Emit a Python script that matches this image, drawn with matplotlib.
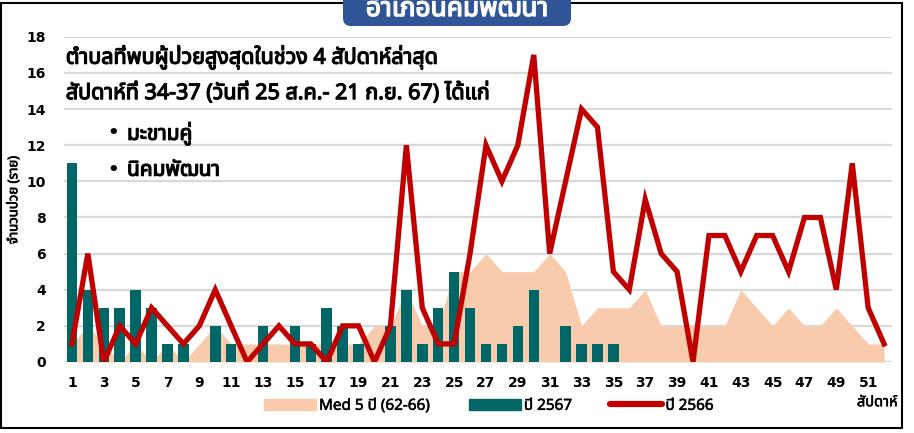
import matplotlib
matplotlib.use("Agg")
import matplotlib.pyplot as plt
import matplotlib.patheffects as pe
from matplotlib import font_manager as fm
from matplotlib.ft2font import FT2Font
from matplotlib.patches import FancyBboxPatch, Rectangle, Patch
from matplotlib.lines import Line2D

# ข้อมูลรายสัปดาห์
weeks = list(range(1, 53))
med_5y = [1, 2, 1, 0, 1, 0, 1, 0, 1, 2, 1, 1, 1, 1, 1, 1, 1, 1, 1, 2,
          2, 4, 2, 2, 5, 5, 6, 5, 5, 5, 6, 5, 2, 3, 3, 3, 4, 2, 2, 2,
          2, 2, 4, 3, 2, 3, 2, 2, 3, 2, 1, 1]
cases_2567 = [11, 4, 3, 3, 4, 3, 1, 1, 0, 2, 1, 0, 2, 0, 2, 1, 3, 2, 1, 0,
              2, 4, 1, 3, 5, 3, 1, 1, 2, 4, 0, 2, 1, 1, 1, 0, 0]
cases_2566 = [1, 6, 0, 2, 1, 3, 2, 1, 2, 4, 2, 0, 1, 2, 1, 1, 0, 2, 2, 0,
              2, 12, 3, 1, 1, 6, 12, 10, 12, 17, 6, 10, 14, 13, 5, 4, 9, 6, 5, 0,
              7, 7, 5, 7, 7, 5, 8, 8, 4, 11, 3, 1]
x_ticks = list(range(1, 53, 2))
y_ticks = list(range(0, 19, 2))

title = "อำเภอนิคมพัฒนา"
note_1 = "ตำบลที่พบผู้ป่วยสูงสุดในช่วง 4 สัปดาห์ล่าสุด"
note_2 = "สัปดาห์ที่ 34-37 (วันที่ 25 ส.ค.- 21 ก.ย. 67) ได้แก่"
top_areas = ["มะขามคู่", "นิคมพัฒนา"]

COL_MED = "#F8CBAD"
COL_67 = "#006666"
COL_66 = "#C00000"


# หาฟอนต์ที่มีอักษรไทย
def find_thai_font():
    names = []
    for f in fm.fontManager.ttflist:
        try:
            if 0x0E01 in FT2Font(f.fname).get_charmap():
                names.append(f.name)
        except Exception:
            pass
    for pref in ["Noto Sans Thai", "Noto Sans Thai Looped", "Sarabun", "Loma",
                 "Garuda", "Kinnari", "Norasi", "Waree", "Umpush"]:
        if pref in names:
            return pref
    return names[0] if names else "DejaVu Sans"


thai_font = find_thai_font()
plt.rcParams["font.family"] = [thai_font, "DejaVu Sans"]

# ฟอนต์ไทยไม่มีตัวหนา ใช้เส้นขอบช่วยให้ดูหนาขึ้น
bold_black = [pe.withStroke(linewidth=0.9, foreground="black")]
semi_black = [pe.withStroke(linewidth=0.4, foreground="black")]
bold_white = [pe.withStroke(linewidth=1.0, foreground="white")]

fig = plt.figure(figsize=(9.14, 4.33), dpi=100)
ax = fig.add_axes([0.070, 0.164, 0.906, 0.751])

ax.fill_between(weeks, med_5y, 0, color=COL_MED, lw=0, zorder=1)
ax.bar(weeks[:len(cases_2567)], cases_2567, width=0.66, color=COL_67, zorder=2)
ax.plot(weeks, cases_2566, color=COL_66, lw=3.8, solid_joinstyle="miter", zorder=3)

ax.set_xlim(0.5, 52.5)
ax.set_ylim(0, 18)
ax.set_xticks(x_ticks)
ax.set_yticks(y_ticks)
ax.tick_params(length=0)
ax.tick_params(axis="x", pad=10)
ax.tick_params(axis="y", pad=13)
for lab in ax.get_xticklabels() + ax.get_yticklabels():
    lab.set_fontweight("bold")
    lab.set_family("DejaVu Sans")
    lab.set_fontsize(10)
ax.grid(axis="y", color="#D9D9D9", lw=1.6, zorder=0)
ax.set_axisbelow(True)
for s in ax.spines.values():
    s.set_visible(False)

# ข้อความในกราฟ
fig.text(0.072, 0.868, note_1, fontsize=15.5, va="center", path_effects=bold_black)
fig.text(0.072, 0.785, note_2, fontsize=15.5, va="center", path_effects=bold_black)
for i, name in enumerate(top_areas):
    y = 0.693 - i * 0.086
    fig.text(0.118, y, "\u2022", fontsize=13, fontweight="bold", va="center",
             family="DejaVu Sans")
    fig.text(0.139, y, name, fontsize=15, va="center", path_effects=bold_black)

fig.text(0.015, 0.538, "จำนวนป่วย (ราย)", rotation=90, fontsize=9.5,
         ha="center", va="center", path_effects=[pe.withStroke(linewidth=0.5, foreground="black")])
fig.text(0.982, 0.070, "สัปดาห์", fontsize=10.5, ha="right", va="center",
         path_effects=semi_black)

handles = [Patch(color=COL_MED), Patch(color=COL_67),
           Line2D([], [], color=COL_66, lw=4.5, solid_capstyle="round")]
leg = fig.legend(handles, ["Med 5 ปี (62-66)", "ปี 2567", "ปี 2566"], ncol=3,
                 loc="center", bbox_to_anchor=(0.535, 0.062), frameon=False,
                 fontsize=11, handlelength=3.4, handleheight=0.7, columnspacing=2.5,
                 handletextpad=0.2)
for t in leg.get_texts():
    t.set_path_effects(semi_black)

# กรอบรูปและกล่องชื่ออำเภอ
fig.patches.append(Rectangle((0.01, 0.05), 9.01, 4.25, fill=False, ec="black",
                             lw=1.5, transform=fig.dpi_scale_trans, zorder=5))
fig.patches.append(FancyBboxPatch((3.43, 4.07), 2.28, 0.5,
                                  boxstyle="round,pad=0,rounding_size=0.08",
                                  fc="#2F5597", ec="none",
                                  transform=fig.dpi_scale_trans, zorder=6))
fig.text(4.57 / 9.14, 4.17 / 4.33, title, color="white", fontsize=19,
         ha="center", va="baseline", zorder=7, path_effects=bold_white)

fig.savefig("out.png", dpi=100)
